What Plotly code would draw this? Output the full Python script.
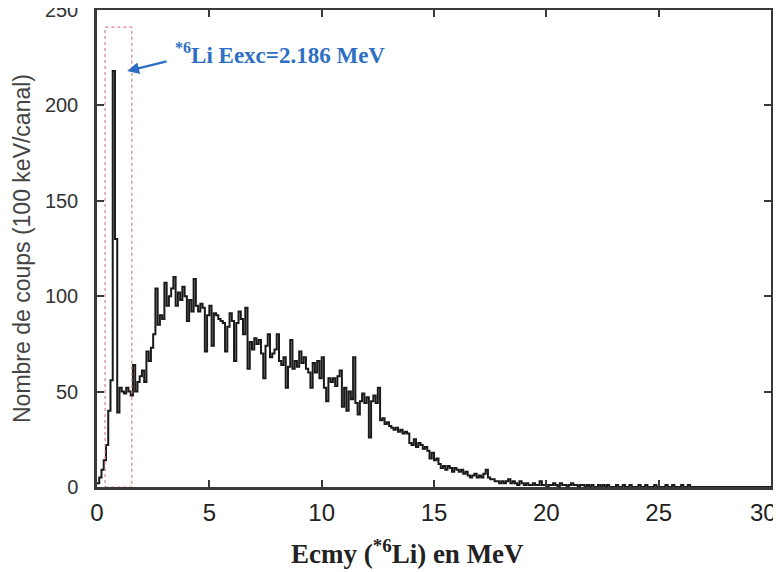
import numpy as np
import plotly.graph_objects as go

# 100 keV bins, left edges from 0.0 to 29.9 MeV
bin_width = 0.1
counts = [
    # 0.0 - 0.9
    2, 5, 9, 14, 22, 40, 56, 218, 130, 39,
    # 1.0 - 1.9
    52, 50, 49, 52, 50, 48, 64, 50, 55, 58,
    # 2.0 - 2.9
    61, 55, 71, 66, 73, 80, 104, 85, 90, 88,
    # 3.0 - 3.9
    107, 95, 100, 104, 110, 95, 102, 98, 105, 100,
    # 4.0 - 4.9
    87, 98, 92, 109, 95, 92, 96, 94, 71, 90,
    # 5.0 - 5.9
    95, 74, 91, 90, 88, 87, 86, 71, 84, 91,
    # 6.0 - 6.9
    87, 66, 86, 92, 88, 80, 94, 62, 76, 72,
    # 7.0 - 7.9
    78, 75, 77, 70, 57, 74, 80, 68, 70, 72,
    # 8.0 - 8.9
    80, 66, 64, 68, 52, 63, 77, 62, 66, 63,
    # 9.0 - 9.9
    71, 65, 68, 62, 60, 52, 65, 60, 66, 57,
    # 10.0 - 10.9
    68, 52, 45, 57, 55, 57, 53, 58, 61, 42,
    # 11.0 - 11.9
    52, 40, 50, 46, 68, 44, 38, 45, 49, 44,
    # 12.0 - 12.9
    47, 26, 45, 48, 44, 52, 35, 36, 33, 34,
    # 13.0 - 13.9
    32, 31, 30, 31, 29, 30, 28, 29, 28, 23,
    # 14.0 - 14.9
    22, 25, 21, 23, 22, 20, 21, 19, 15, 18,
    # 15.0 - 15.9
    14, 15, 12, 10, 11, 9, 11, 10, 8, 10,
    # 16.0 - 16.9
    9, 8, 9, 7, 8, 6, 5, 6, 7, 5,
    # 17.0 - 17.9
    6, 5, 7, 9, 5, 4, 4, 3, 3, 2,
    # 18.0 - 18.9
    3, 2, 3, 4, 2, 3, 2, 1, 3, 2,
    # 19.0 - 19.9
    1, 2, 1, 1, 2, 1, 1, 3, 1, 1,
    # 20.0 - 20.9
    0, 1, 1, 2, 1, 0, 2, 1, 1, 0,
    # 21.0 - 21.9
    1, 2, 1, 1, 0, 1, 1, 0, 1, 0,
    # 22.0 - 22.9
    1, 0, 0, 1, 0, 1, 0, 1, 0, 0,
    # 23.0 - 23.9
    0, 1, 0, 0, 1, 0, 0, 1, 0, 0,
    # 24.0 - 24.9
    0, 1, 0, 0, 1, 0, 0, 0, 1, 0,
    # 25.0 - 25.9
    0, 0, 0, 1, 0, 0, 1, 0, 0, 0,
    # 26.0 - 26.9
    1, 0, 0, 1, 0, 0, 0, 0, 0, 0,
    # 27.0 - 29.9
    0, 0, 0, 0, 0, 0, 0, 0, 0, 0,
    0, 0, 0, 0, 0, 0, 0, 0, 0, 0,
    0, 0, 0, 0, 0, 0, 0, 0, 0, 0,
]

x_ticks = [0, 5, 10, 15, 20, 25, 30]
x_tick_labels = ["0", "5", "10", "15", "20", "25", ""]
last_x_label = "30"   # drawn separately, nudged left so it stays inside the page
y_ticks = [0, 50, 100, 150, 200, 250]

# selection window around the 2.186 MeV state
window_e = [0.36, 1.55]
window_top = 241
label_text = "<b><sup>*6</sup>Li Eexc=2.186 MeV</b>"
arrow_tip = (1.34, 218)
label_pos = (3.38, 227)
x_title = "<b>Ecmy (<sup>*6</sup>Li) en MeV</b>"
y_title = "Nombre de coups (100 keV/canal)"

edges = np.round(np.arange(len(counts)) * bin_width, 3)
xs = list(edges) + [len(counts) * bin_width]
ys = list(counts) + [counts[-1]]

fig = go.Figure()
fig.add_trace(go.Scatter(
    x=xs, y=ys, mode="lines", line=dict(color="#1a1a1a", width=2, shape="hv"),
    showlegend=False, hoverinfo="skip",
))

fig.add_shape(type="rect", x0=window_e[0], x1=window_e[1], y0=0, y1=window_top,
              xref="x", yref="y", line=dict(color="#d9808a", width=1.2, dash="dot"),
              fillcolor="rgba(0,0,0,0)")

fig.add_annotation(x=arrow_tip[0], y=arrow_tip[1], xref="x", yref="y", text="",
                   showarrow=True, arrowhead=2, arrowsize=1, arrowwidth=2.4,
                   arrowcolor="#2e6fc4", ax=41, ay=-10)
fig.add_annotation(x=label_pos[0], y=label_pos[1], xref="x", yref="y",
                   text=label_text, showarrow=False, xanchor="left", yanchor="middle",
                   font=dict(family="Liberation Serif", size=23, color="#2e6fc4"))

# last x tick label
fig.add_annotation(x=x_ticks[-1], y=0, xref="x", yref="paper", text=last_x_label,
                   showarrow=False, xanchor="center", yanchor="middle",
                   xshift=-8, yshift=-25,
                   font=dict(family="Liberation Sans", size=24, color="#222222"))

# x-axis title (sits slightly left of the plot centre in the reference)
fig.add_annotation(x=0.46, y=-0.136, xref="paper", yref="paper", text=x_title,
                   showarrow=False, xanchor="center", yanchor="middle",
                   font=dict(family="Liberation Serif", size=27, color="#222222"))

axis_common = dict(showline=True, linecolor="#3a3a3a", linewidth=2.5, mirror="allticks",
                   ticks="inside", ticklen=7, tickwidth=1.5, tickcolor="#3a3a3a",
                   showgrid=False, zeroline=False, automargin=False,
                   ticklabeloverflow="allow")

fig.update_xaxes(range=[0, 30], tickvals=x_ticks, ticktext=x_tick_labels, **axis_common,
                 tickfont=dict(family="Liberation Sans", size=24, color="#222222"),
                 ticklabelstandoff=2)
fig.update_yaxes(range=[0, 250], tickvals=y_ticks, **axis_common,
                 tickfont=dict(family="Liberation Sans", size=20, color="#333333"),
                 ticklabelstandoff=12,
                 title=dict(text=y_title,
                            font=dict(family="Liberation Sans", size=23, color="#444444"),
                            standoff=8))

# the page body adds an 8 px offset, so the figure is 8 px smaller
fig.update_layout(
    width=773, height=564,
    margin=dict(l=89, r=10, t=2, b=85),
    paper_bgcolor="white", plot_bgcolor="white",
)

fig.write_html("out.html")
